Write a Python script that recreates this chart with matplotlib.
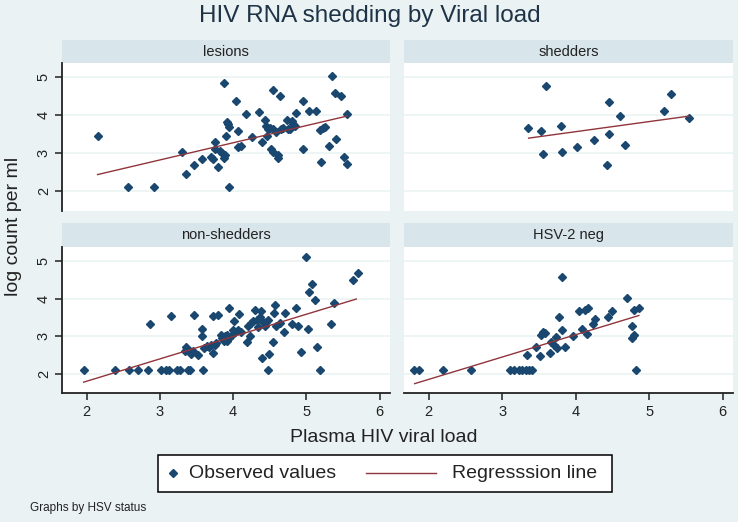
import matplotlib
matplotlib.use('Agg')
import matplotlib.pyplot as plt
from matplotlib.lines import Line2D
from matplotlib.patches import Rectangle
import numpy as np

plt.rcParams['font.family'] = ['Liberation Sans', 'DejaVu Sans']

# observed values per HSV status group (plasma HIV viral load, log count per ml)
lesions_x = [2.15, 2.57, 2.92, 3.30, 3.36, 3.46, 3.57, 3.70, 3.73, 3.75, 3.75, 3.80, 3.82,
             3.85, 3.88, 3.88, 3.89, 3.90, 3.91, 3.93, 3.95, 3.95, 4.04, 4.06, 4.07, 4.11,
             4.17, 4.26, 4.35, 4.39, 4.43, 4.45, 4.46, 4.48, 4.50, 4.52, 4.55, 4.55, 4.55,
             4.59, 4.61, 4.61, 4.64, 4.65, 4.68, 4.73, 4.75, 4.77, 4.80, 4.82, 4.84, 4.86,
             4.95, 4.95, 5.04, 5.13, 5.18, 5.20, 5.23, 5.26, 5.31, 5.35, 5.39, 5.40, 5.47,
             5.51, 5.55, 5.56]
lesions_y = [3.46, 2.12, 2.12, 3.03, 2.46, 2.68, 2.86, 2.90, 2.85, 3.30, 3.12, 2.64, 3.05,
             3.01, 2.88, 4.86, 2.96, 3.46, 3.82, 3.76, 3.70, 2.12, 4.37, 3.60, 3.17, 3.20,
             4.03, 3.43, 4.08, 3.29, 3.87, 3.73, 3.45, 3.63, 3.67, 3.12, 3.03, 4.68, 3.65,
             3.56, 2.88, 2.96, 4.50, 3.65, 3.67, 3.89, 3.65, 3.63, 3.85, 3.76, 3.72, 4.07,
             4.37, 3.12, 4.12, 4.12, 3.61, 2.77, 3.66, 3.69, 3.20, 5.04, 4.60, 3.38, 4.50,
             2.90, 4.04, 2.73]

shedders_x = [3.35, 3.53, 3.55, 3.60, 3.80, 3.82, 4.02, 4.25, 4.42, 4.46, 4.46, 4.60,
              4.67, 5.20, 5.30, 5.54]
shedders_y = [3.68, 3.60, 2.99, 4.77, 3.73, 3.03, 3.16, 3.35, 2.68, 4.34, 3.50, 3.99,
              3.21, 4.12, 4.56, 3.94]

nonshed_x = [1.96, 2.39, 2.58, 2.70, 2.84, 2.87, 3.02, 3.09, 3.12, 3.15, 3.23, 3.27, 3.34,
             3.36, 3.39, 3.41, 3.43, 3.45, 3.46, 3.41, 3.52, 3.57, 3.58, 3.59, 3.60, 3.64,
             3.67, 3.70, 3.72, 3.73, 3.75, 3.77, 3.80, 3.83, 3.85, 3.88, 3.89, 3.91, 3.92,
             3.95, 3.95, 3.98, 4.00, 4.01, 4.03, 4.07, 4.08, 4.11, 4.19, 4.20, 4.23, 4.24,
             4.27, 4.30, 4.32, 4.34, 4.36, 4.38, 4.39, 4.41, 4.43, 4.45, 4.48, 4.48, 4.49,
             4.55, 4.56, 4.57, 4.58, 4.64, 4.70, 4.71, 4.80, 4.86, 4.89, 4.93, 5.00, 5.02,
             5.04, 5.07, 5.11, 5.14, 5.18, 5.33, 5.38, 5.64, 5.70]
nonshed_y = [2.10, 2.10, 2.10, 2.10, 2.10, 3.31, 2.10, 2.10, 2.10, 3.53, 2.10, 2.10, 2.59,
             2.72, 2.10, 2.10, 2.53, 2.59, 3.57, 2.59, 2.49, 3.01, 3.20, 2.10, 2.67, 2.74,
             2.72, 2.76, 2.55, 3.53, 2.75, 2.81, 3.57, 3.02, 2.94, 2.86, 2.99, 2.88, 3.03,
             3.75, 2.94, 3.03, 3.16, 3.41, 3.12, 3.15, 3.58, 3.11, 2.84, 3.27, 3.01, 3.34,
             3.40, 3.71, 3.43, 3.25, 3.50, 3.68, 2.41, 3.38, 3.28, 3.38, 3.43, 2.10, 2.53,
             2.83, 3.61, 3.84, 3.27, 3.34, 3.10, 3.61, 3.32, 3.75, 3.27, 2.58, 5.10, 3.19,
             4.18, 4.40, 3.97, 2.71, 2.10, 3.31, 3.88, 4.49, 4.69]

hsvneg_x = [1.80, 1.87, 2.20, 2.58, 3.11, 3.16, 3.23, 3.27, 3.32, 3.36, 3.41, 3.34, 3.46,
            3.51, 3.53, 3.56, 3.58, 3.65, 3.66, 3.70, 3.73, 3.75, 3.77, 3.82, 3.82, 3.86,
            3.97, 4.04, 4.08, 4.13, 4.15, 4.17, 4.24, 4.26, 4.44, 4.50, 4.70, 4.77, 4.77,
            4.79, 4.80, 4.82, 4.86]
hsvneg_y = [2.10, 2.10, 2.10, 2.10, 2.10, 2.10, 2.10, 2.10, 2.10, 2.10, 2.10, 2.50, 2.72,
            2.46, 3.03, 3.10, 3.08, 2.55, 2.83, 2.77, 2.97, 2.68, 3.50, 4.58, 3.16, 2.71,
            3.01, 3.68, 3.19, 3.69, 3.06, 3.75, 3.32, 3.45, 3.52, 3.68, 4.01, 3.27, 2.96,
            3.71, 3.03, 2.10, 3.75]

# regression line end points
lesions_fit = ([2.15, 5.55], [2.44, 3.98])
shedders_fit = ([3.36, 5.54], [3.40, 3.98])
nonshed_fit = ([1.96, 5.68], [1.77, 3.99])
hsvneg_fit = ([1.81, 4.86], [1.73, 3.55])

panels = [
    ('lesions', lesions_x, lesions_y, lesions_fit),
    ('shedders', shedders_x, shedders_y, shedders_fit),
    ('non-shedders', nonshed_x, nonshed_y, nonshed_fit),
    ('HSV-2 neg', hsvneg_x, hsvneg_y, hsvneg_fit),
]

x_ticks = [2, 3, 4, 5, 6]
y_ticks = [2, 3, 4, 5]

BG = '#EAF2F3'
STRIP = '#D8E5EB'
NAVY = '#1A476F'
MAROON = '#90353B'
INK = '#222222'

fig = plt.figure(figsize=(7.38, 5.22), dpi=100, facecolor=BG)
W, H = 738.0, 522.0


def fx(px):
    return px / W


def fy(py):
    return 1 - py / H


# pixel boxes: (left, right) and (strip top, plot top, plot bottom)
cols = [(62, 390), (404, 733)]
rows = [(40, 63, 211), (223, 247, 393)]

for i, (name, xs, ys, fit) in enumerate(panels):
    r, c = divmod(i, 2)
    l, rr = cols[c]
    st, pt, pb = rows[r]
    sax = fig.add_axes([fx(l), fy(pt), (rr - l) / W, (pt - st) / H])
    sax.set_facecolor(STRIP)
    sax.set_xticks([])
    sax.set_yticks([])
    for s in sax.spines.values():
        s.set_visible(False)
    sax.text(0.5, 0.5, name, ha='center', va='center', fontsize=10.5,
             color=INK, transform=sax.transAxes)

    ax = fig.add_axes([fx(l), fy(pb), (rr - l) / W, (pb - pt) / H])
    ax.set_facecolor('white')
    ax.set_xlim(1.665, 6.14)
    ax.set_ylim(1.48, 5.38)
    for yv in y_ticks:
        ax.axhline(yv, color=BG, lw=1.1, zorder=0)
    ax.plot(xs, ys, linestyle='none', marker='D', ms=4.2, color=NAVY, zorder=3)
    ax.plot(fit[0], fit[1], color=MAROON, lw=1.0, zorder=4)

    for s in ax.spines.values():
        s.set_visible(False)
    ax.set_xticks(x_ticks)
    ax.set_yticks(y_ticks)
    ax.tick_params(axis='both', direction='out', length=5, width=1.1,
                   color=INK, labelsize=10.5, labelcolor=INK)
    if c == 0:
        ax.spines['left'].set_visible(True)
        ax.spines['left'].set_linewidth(1.3)
        ax.spines['left'].set_color(INK)
        ax.tick_params(axis='y', labelrotation=90, pad=3)
        for lab in ax.get_yticklabels():
            lab.set_va('center')
    else:
        ax.tick_params(axis='y', left=False, labelleft=False)
    if r == 1:
        ax.spines['bottom'].set_visible(True)
        ax.spines['bottom'].set_linewidth(1.3)
        ax.spines['bottom'].set_color(INK)
    else:
        ax.tick_params(axis='x', bottom=False, labelbottom=False)

fig.text(fx(370), fy(16), 'HIV RNA shedding by Viral load', ha='center', va='center',
         fontsize=17.5, color='#1F3347')
fig.text(fx(14), fy(226), 'log count per ml', ha='center', va='center',
         rotation=90, fontsize=14, color=INK)
fig.text(fx(384), fy(438), 'Plasma HIV viral load', ha='center', va='center',
         fontsize=14, color=INK)
fig.text(fx(30), fy(508), 'Graphs by HSV status', ha='left', va='center',
         fontsize=8.5, color=INK)

# legend, laid out like the Stata key box
leg_y = 473
fig.add_artist(Rectangle((fx(158), fy(492)), (612 - 158) / W, 37 / H,
                         transform=fig.transFigure, facecolor='white',
                         edgecolor='black', linewidth=1.1))
fig.add_artist(Line2D([fx(173)], [fy(leg_y)], linestyle='none', marker='D', ms=4.2,
                      color=NAVY, transform=fig.transFigure))
fig.text(fx(189), fy(leg_y), 'Observed values', ha='left', va='center',
         fontsize=14, color=INK)
fig.add_artist(Line2D([fx(366), fx(436)], [fy(leg_y), fy(leg_y)], color=MAROON,
                      lw=1.0, transform=fig.transFigure))
fig.text(fx(452), fy(leg_y), 'Regresssion line', ha='left', va='center',
         fontsize=14, color=INK)

fig.savefig('out.png', dpi=100, facecolor=BG)
